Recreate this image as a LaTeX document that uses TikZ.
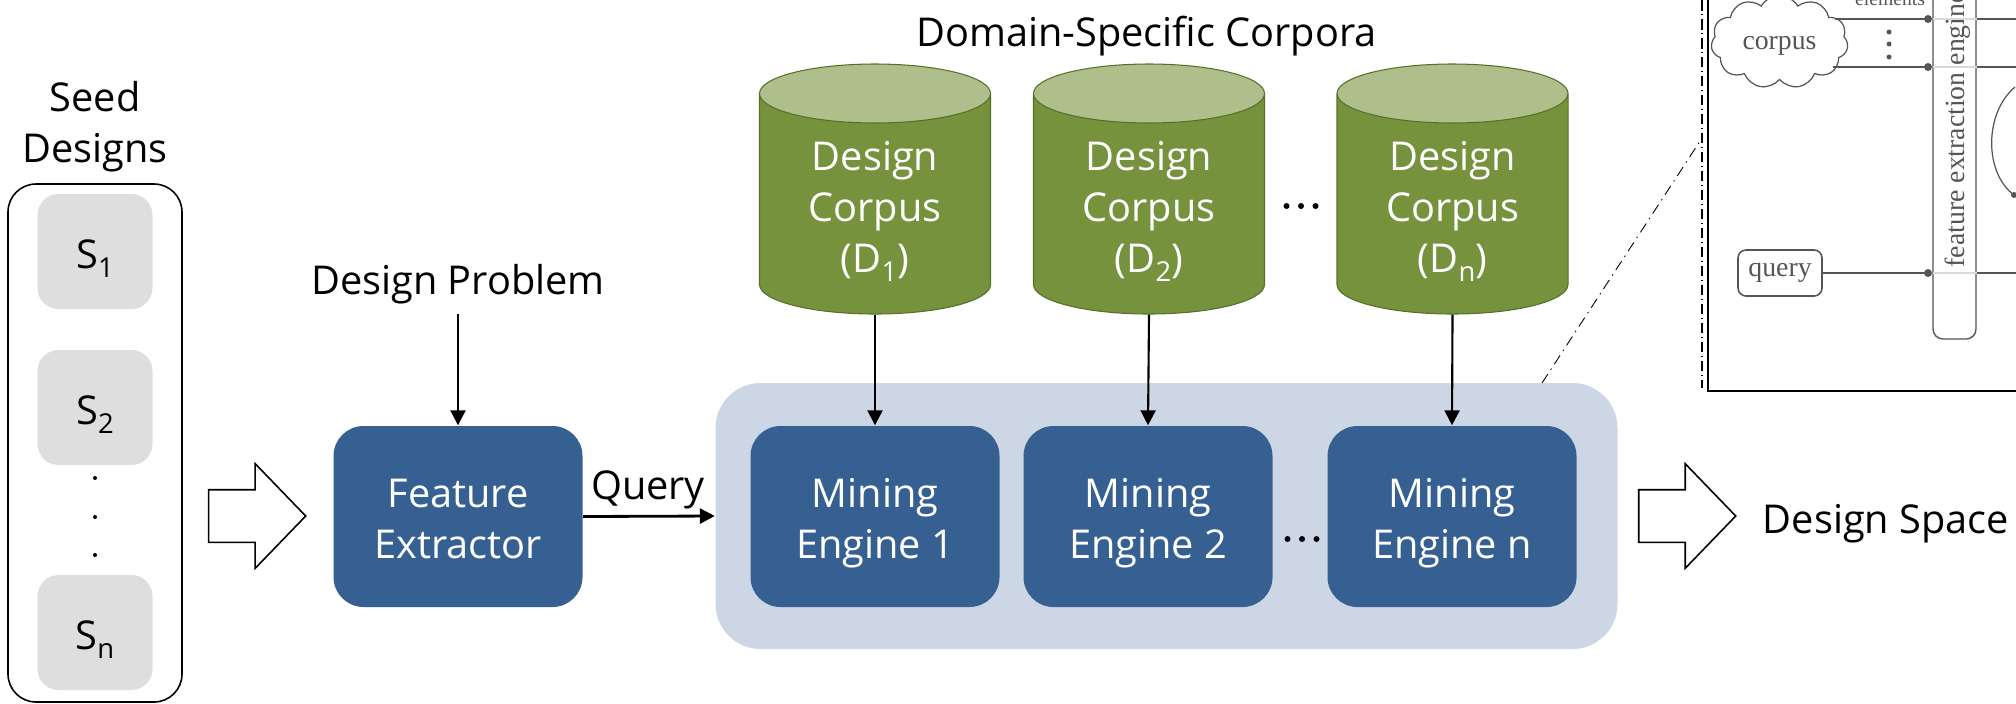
\documentclass[tikz,border=0pt]{standalone}
\usepackage{fontspec}
\setmainfont{Open Sans}
\newfontfamily\scanfont{Liberation Serif}
\usetikzlibrary{arrows.meta,shapes.geometric,shapes.arrows,shapes.symbols}
\definecolor{corpusgreen}{HTML}{76923C}
\definecolor{corpustop}{HTML}{AEBF8B}
\definecolor{corpusline}{HTML}{567029}
\definecolor{engineblue}{HTML}{376092}
\definecolor{panelblue}{HTML}{CCD6E4}
\definecolor{seedgrey}{HTML}{DEDEDE}
\definecolor{scangrey}{HTML}{555555}
\newcommand{\lowtext}[1]{\raisebox{-2.8pt}{\fontsize{7.8}{9}\selectfont #1}}
\tikzset{
  label text/.style={font=\fontsize{11.3}{14.5}\selectfont,inner sep=0,align=center},
  engine/.style={label text,fill=engineblue,text=white,rounded corners=0.3cm,minimum width=2.49cm,minimum height=1.81cm,execute at begin node={\rule[-0.1cm]{0pt}{1.03cm}}},
  seed/.style={label text,fill=seedgrey,rounded corners=0.21cm,minimum width=1.15cm,minimum height=1.15cm,execute at begin node={\rule{0pt}{0.43cm}},execute at end node={\rule[-0.1cm]{0pt}{0.1cm}}},
  corpus/.style={inner sep=0,text width=1cm,text height=1.2cm,text depth=0pt,draw=corpusline,line width=0.3pt,cylinder,shape border rotate=90,aspect=0.59,cylinder uses custom fill,cylinder body fill=corpusgreen,cylinder end fill=corpustop,minimum width=2.31cm,minimum height=2.5cm,anchor=shape center},
  corpus text/.style={label text,text=white,anchor=base},
  flow/.style={draw=black,fill=white,line width=0.45pt,single arrow,single arrow head extend=0.26cm,single arrow tip angle=92,inner sep=0,text height=0.51cm,text depth=0pt,minimum width=1.03cm,minimum height=0.97cm},
  link/.style={-{Triangle[length=1.5mm,width=1.5mm]},line width=0.6pt},
  scan/.style={draw=scangrey,line width=0.45pt},
  scan text/.style={text=scangrey,inner sep=0,font=\fontsize{7.9}{9}\scanfont}
}
\begin{document}
\begin{tikzpicture}
      \useasboundingbox (0, 0) rectangle (20.16, 7.03);
      \node[label text] (seedtitle) at (0.95, 5.76) {Seed\\Designs};
      \draw[line width=0.45pt,rounded corners=0.28cm] (0.08, 0.01) rectangle (1.82, 5.19);
      \node[seed] (s1) at (0.95, 4.515) {S\lowtext{1}};
      \node[seed] (s2) at (0.95, 2.955) {S\lowtext{2}};
      \node[seed] (sn) at (0.95, 0.705) {S\lowtext{n}};
      \foreach \y in {2.25, 1.86, 1.48} {
        \fill (0.95, \y) circle(0.02);
      }
      \node[flow] (flowin) at (2.445, 1.87) {};
      \node[label text,anchor=base] (problem) at (4.58, 4.09) {Design Problem};
      \node[engine] (feature) at (4.58, 1.865) {Feature\\Extractor};
      \node[fill=panelblue,rounded corners=0.45cm,minimum width=9.02cm,minimum height=2.66cm] (panel) at (11.665, 1.87) {};
      \node[engine] (mining1) at (8.75, 1.865) {Mining\\Engine 1};
      \node[engine] (mining2) at (11.48, 1.865) {Mining\\Engine 2};
      \node[engine] (miningn) at (14.52, 1.865) {Mining\\Engine n};
      \node[label text,anchor=base] (domain) at (11.465, 6.565) {Domain-Specific Corpora};
      \node[corpus] (corpus1) at (8.75, 5.14) {};
      \node[corpus] (corpus2) at (11.49, 5.14) {};
      \node[corpus] (corpusn) at (14.525, 5.14) {};
      \node[corpus text] (corpustext1) at (8.75, 4.31) {Design\\Corpus\\(D\lowtext{1})};
      \node[corpus text] (corpustext2) at (11.49, 4.31) {Design\\Corpus\\(D\lowtext{2})};
      \node[corpus text] (corpustextn) at (14.525, 4.31) {Design\\Corpus\\(D\lowtext{n})};
      \foreach \x in {-0.145, 0, 0.145} {
        \fill (13.01+\x, 4.97) circle(0.03);
        \fill (13.02+\x, 1.64) circle(0.03);
      }
      \draw[link,shorten <=0.1cm] (problem.south) -- (feature.north);
      \draw[link,line width=0.8pt] (feature.east) -- (panel.west);
      \node[label text,anchor=base] (query) at (6.48, 2.04) {Query};
      \draw[link] (corpus1.south) -- (mining1.north);
      \draw[link] (corpus2.south) -- (mining2.north);
      \draw[link] (corpusn.south) -- (miningn.north);
      \node[flow] (flowout) at (16.745, 1.87) {};
      \node[label text,anchor=base] (space) at (18.86, 1.70) {Design Space};
      \coordinate (zoomfoot) at (15.42, 3.2);
      \coordinate (zoomhead) at (17.02, 5.65);
      \draw[line width=0.25pt,dash pattern=on 3pt off 1.5pt on 0.4pt off 1.5pt] (zoomfoot) -- (zoomhead);
      \draw[line width=0.6pt,dash pattern=on 3pt off 1pt on 0.4pt off 1pt] (17.02, 7.03) -- (17.02, 3.15);
      \draw[line width=0.5pt] (17.08, 7.03) -- (17.08, 3.12) -- (20.16, 3.12);
      \begin{scope}
        \clip (17.09, 3.13) rectangle (20.16, 7.03);
        \node[scan text,draw=scangrey,line width=0.35pt,cloud,cloud puffs=11,cloud puff arc=120,aspect=1.5,minimum width=1.37cm,minimum height=0.93cm] (cloud) at (17.795, 6.61) {\rule{0pt}{0.2cm}corpus};
        \node[scan text,anchor=base] (elements) at (18.90, 6.98) {\fontsize{5.6}{7}\scanfont elements};
        \node[scan text,draw=scangrey,line width=0.45pt,rounded corners=0.08cm,minimum width=0.84cm,minimum height=0.46cm] (querybox) at (17.80, 4.30) {query};
        \node[draw=scangrey,line width=0.4pt,rounded corners=0.1cm,minimum width=0.43cm,minimum height=5cm,inner sep=0] (extract) at (19.545, 6.14) {};
        \node[scan text,rotate=90,anchor=base west] (extracttext) at (19.64, 4.35) {feature extraction engine};
        \foreach \y in {6.84, 6.36, 4.30} {
          \draw[draw=black!15,line width=0.4pt] (19.33, \y) -- (19.77, \y);
          \draw[scan] (19.77, \y) -- (20.16, \y);
          \fill[scangrey] (19.28, \y) circle(0.04);
        }
        \draw[scan,line width=0.7pt] (18.35, 6.84) -- (19.28, 6.84);
        \draw[scan] (18.33, 6.36) -- (19.28, 6.36);
        \draw[scan,line width=0.7pt] (querybox.east) -- (19.28, 4.30);
        \foreach \y in {6.71, 6.59, 6.46} {
          \fill[scangrey] (18.89, \y) circle(0.025);
        }
        \draw[scan,line width=0.35pt] (20.15, 6.16) .. controls (19.84, 5.9) and (19.84, 5.3) .. (20.14, 5.08);
        \fill[scangrey] (20.14, 5.08) circle(0.03);
      \end{scope}
    \end{tikzpicture}
\end{document}
